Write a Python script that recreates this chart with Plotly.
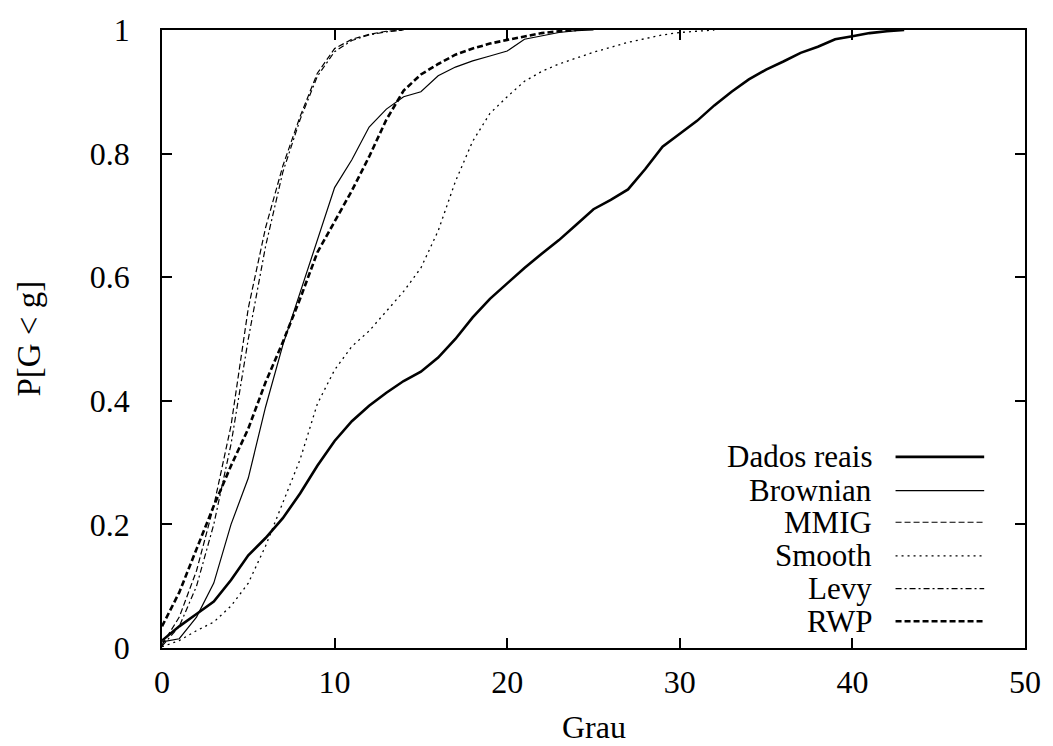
import plotly.graph_objects as go

# ---- data ----
x_dados = list(range(0, 44))
y_dados = [0.012, 0.035, 0.055, 0.075, 0.11, 0.15, 0.178, 0.21, 0.25, 0.295,
           0.335, 0.367, 0.392, 0.413, 0.432, 0.447, 0.47, 0.50, 0.535, 0.565,
           0.59, 0.615, 0.638, 0.66, 0.685, 0.71, 0.725, 0.742, 0.775, 0.811,
           0.832, 0.853, 0.878, 0.90, 0.92, 0.936, 0.949, 0.963, 0.973, 0.985,
           0.99, 0.995, 0.998, 1.0]

x_brown = list(range(0, 26))
y_brown = [0.01, 0.015, 0.05, 0.105, 0.2, 0.275, 0.39, 0.49, 0.575, 0.66,
           0.745, 0.79, 0.843, 0.872, 0.892, 0.9, 0.926, 0.94, 0.95, 0.958,
           0.966, 0.985, 0.99, 0.996, 0.999, 1.0]

x_mmig = list(range(0, 15))
y_mmig = [0.005, 0.05, 0.125, 0.23, 0.36, 0.55, 0.68, 0.78, 0.86, 0.93,
          0.97, 0.985, 0.993, 0.998, 1.0]

x_smooth = list(range(0, 33))
y_smooth = [0.002, 0.012, 0.028, 0.042, 0.068, 0.105, 0.165, 0.235, 0.305, 0.395,
            0.45, 0.488, 0.513, 0.545, 0.577, 0.615, 0.675, 0.755, 0.82, 0.865,
            0.892, 0.917, 0.933, 0.945, 0.955, 0.964, 0.972, 0.98, 0.986, 0.992,
            0.996, 0.998, 1.0]

x_levy = list(range(0, 15))
y_levy = [0.003, 0.035, 0.1, 0.2, 0.33, 0.5, 0.65, 0.77, 0.855, 0.925,
          0.965, 0.983, 0.992, 0.997, 1.0]

x_rwp = list(range(0, 25))
y_rwp = [0.035, 0.09, 0.16, 0.23, 0.295, 0.355, 0.43, 0.495, 0.565, 0.64,
         0.69, 0.74, 0.795, 0.855, 0.902, 0.928, 0.945, 0.96, 0.97, 0.978,
         0.984, 0.99, 0.995, 0.998, 1.0]

x_ticks = [0, 10, 20, 30, 40, 50]
y_ticks = [0, 0.2, 0.4, 0.6, 0.8, 1]
y_tick_text = ["0", "0.2", "0.4", "0.6", "0.8", "1"]

series = [
    ("Dados reais", x_dados, y_dados, dict(color="black", width=2.6, dash="solid")),
    ("Brownian", x_brown, y_brown, dict(color="black", width=1.2, dash="solid")),
    ("MMIG", x_mmig, y_mmig, dict(color="black", width=1.2, dash="6px,3px")),
    ("Smooth", x_smooth, y_smooth, dict(color="black", width=1.3, dash="2px,4px")),
    ("Levy", x_levy, y_levy, dict(color="black", width=1.2, dash="6px,3px,2px,3px")),
    ("RWP", x_rwp, y_rwp, dict(color="black", width=2.6, dash="6px,3px")),
]

FONT = "Times New Roman, serif"
FS_TICK = 32
FS_TEXT = 33
FS_LEG = 31

fig = go.Figure()
for name, xs, ys, ln in series:
    fig.add_trace(go.Scatter(x=xs, y=ys, mode="lines", name=name, line=ln,
                             showlegend=False))

# custom gnuplot-style legend (text right, sample line at right)
leg_y = [0.3093, 0.2548, 0.2035, 0.149, 0.0962, 0.0433]
for (name, xs, ys, ln), yy in zip(series, leg_y):
    fig.add_annotation(x=0.8247, y=yy, xref="paper", yref="paper", text=name,
                       showarrow=False, xanchor="right", yanchor="middle",
                       font=dict(family=FONT, size=FS_LEG, color="black"))
    fig.add_shape(type="line", xref="paper", yref="paper", x0=0.850, x1=0.9527,
                  y0=yy, y1=yy, line=ln)

# axis titles
fig.add_annotation(x=0.5, y=-0.128, xref="paper", yref="paper", text="Grau",
                   showarrow=False, xanchor="center", yanchor="middle",
                   font=dict(family=FONT, size=32, color="black"))
fig.add_annotation(x=-0.1546, y=0.5, xref="paper", yref="paper", text="P[G < g]",
                   showarrow=False, xanchor="center", yanchor="middle", textangle=-90,
                   font=dict(family=FONT, size=FS_TEXT, color="black"))

axis_common = dict(showline=True, linecolor="black", linewidth=1.5, mirror="ticks",
                   ticks="inside", ticklen=10, tickwidth=1.5, tickcolor="black",
                   showgrid=False, zeroline=False,
                   tickfont=dict(family=FONT, size=FS_TICK, color="black"))

fig.update_xaxes(range=[0, 50], tickvals=x_ticks, ticklabelstandoff=5, **axis_common)
fig.update_yaxes(range=[0, 1], tickvals=y_ticks, ticktext=y_tick_text,
                 ticklabelstandoff=24, **axis_common)

fig.update_layout(width=1053, height=746, margin=dict(l=162, r=24, t=24, b=98),
                  plot_bgcolor="white", paper_bgcolor="white",
                  font=dict(family=FONT, size=FS_TEXT, color="black"))

fig.write_html("out.html")
